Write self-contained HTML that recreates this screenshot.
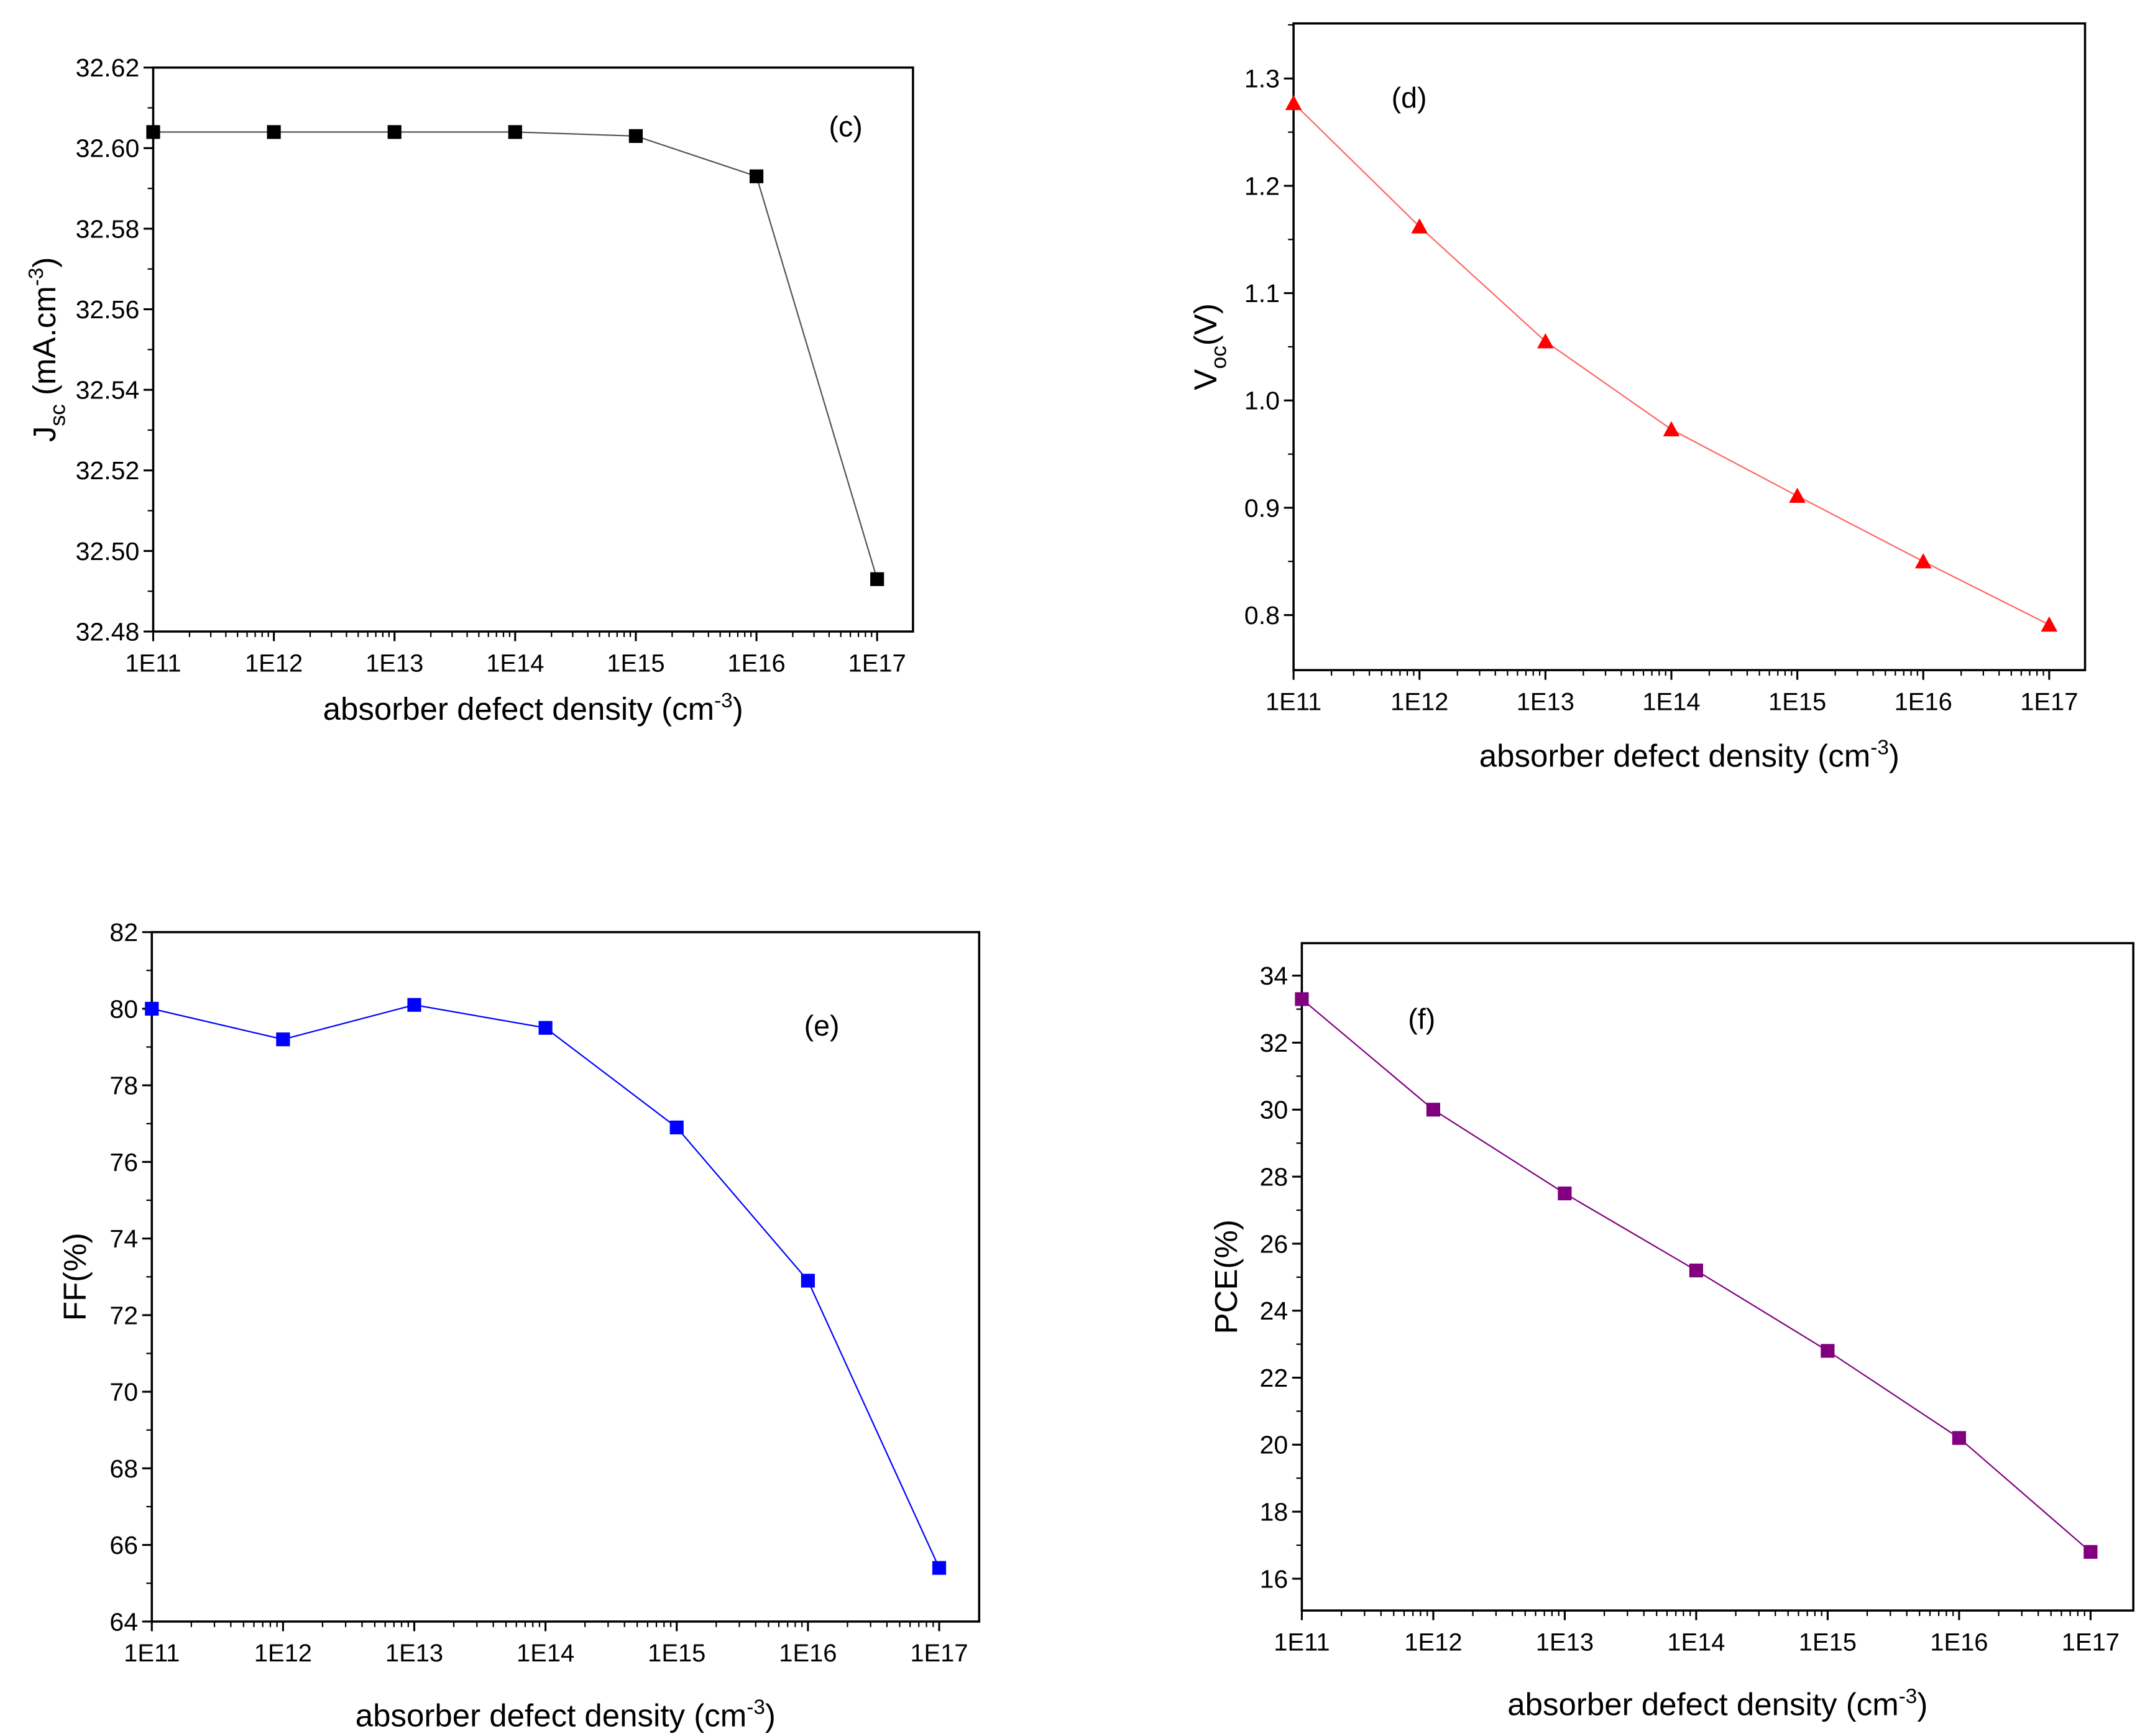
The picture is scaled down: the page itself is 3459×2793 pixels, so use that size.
<!DOCTYPE html>
<html><head><meta charset="utf-8"><style>
html,body{margin:0;padding:0;background:#fff}
svg{display:block;font-family:"Liberation Sans",Arial,sans-serif}
</style></head><body>
<svg id="fig" width="3459" height="2793" viewBox="0 0 1559 1259" xmlns="http://www.w3.org/2000/svg"></svg>
<script>
const decades = ["1E11","1E12","1E13","1E14","1E15","1E16","1E17"];
const jscValues = [32.604,32.604,32.604,32.604,32.603,32.593,32.493];
const vocValues = [1.277,1.162,1.055,0.973,0.911,0.850,0.791];
const ffValues = [80.0,79.2,80.1,79.5,76.9,72.9,65.4];
const pceValues = [33.3,30.0,27.5,25.2,22.8,20.2,16.8];
const jscTicks = [32.48,32.50,32.52,32.54,32.56,32.58,32.60,32.62];
const vocTicks = [0.8,0.9,1.0,1.1,1.2,1.3];
const ffTicks = [64,66,68,70,72,74,76,78,80,82];
const pceTicks = [16,18,20,22,24,26,28,30,32,34];

const NS="http://www.w3.org/2000/svg";
const svg=document.getElementById('fig');
function mk(tag,attrs,parent){const e=document.createElementNS(NS,tag);for(const k in attrs)e.setAttribute(k,attrs[k]);(parent||svg).appendChild(e);return e;}

function panel(o){
  const g=mk('g',{});
  
  
  const X=i=>o.x0+(o.x1-o.x0)*i/6;
  const Y=v=>o.yb-(v-o.ymin)/(o.ymax-o.ymin)*(o.yb-o.yt);
  const fr=mk('rect',{x:o.L,y:o.yt,width:o.R-o.L,height:o.yb-o.yt,fill:'none',stroke:'#000','stroke-width':1.6},g);
  
  
  for(let i=0;i<7;i++){
    mk('line',{x1:X(i),x2:X(i),y1:o.yb,y2:o.yb+7,stroke:'#000','stroke-width':1.4},g);
    const t=mk('text',{x:X(i),y:o.yb+29,'text-anchor':'middle','font-size':18},g);
    t.textContent=decades[i];
    
    
    if(i<6)for(let m=2;m<10;m++){const xm=X(i+Math.log10(m));mk('line',{x1:xm,x2:xm,y1:o.yb,y2:o.yb+4,stroke:'#000','stroke-width':1},g);}
  }
  const step=o.ticks[1]-o.ticks[0];
  o.ticks.forEach(v=>{
    mk('line',{x1:o.L-7,x2:o.L,y1:Y(v),y2:Y(v),stroke:'#000','stroke-width':1.4},g);
    const t=mk('text',{x:o.L-10,y:Y(v)+6.5,'text-anchor':'end','font-size':18.5},g);
    t.textContent=o.fmt(v);
    
    
    const vm=v+step/2;
    if(vm<o.ymax)mk('line',{x1:o.L-4,x2:o.L,y1:Y(vm),y2:Y(vm),stroke:'#000','stroke-width':1},g);
  });
  const pts=o.vals.map((v,i)=>X(i)+','+Y(v)).join(' ');
  const pl=mk('polyline',{points:pts,fill:'none',stroke:o.lc,'stroke-width':1},g);
  
  
  o.vals.forEach((v,i)=>{
    let m;
    if(o.tri){const x=X(i),y=Y(v);m=mk('polygon',{points:`${x},${y-6} ${x-6},${y+5} ${x+6},${y+5}`,fill:o.mc},g);}
    else m=mk('rect',{x:X(i)-5,y:Y(v)-5,width:10,height:10,fill:o.mc},g);
    
    
  });
  const lb=mk('text',{x:o.lx,y:o.ly,'font-size':21},g);
  lb.textContent=o.label;
  
  
  const xt=mk('text',{x:(o.L+o.R)/2,y:o.yb+o.xtOff,'text-anchor':'middle','font-size':23},g);
  xt.innerHTML='absorber defect density (cm<tspan dy="-9" font-size="15">-3</tspan><tspan dy="9">)</tspan>';
  
  
  const yt=mk('text',{transform:`translate(${o.ytx},${(o.yt+o.yb)/2}) rotate(-90)`,'text-anchor':'middle','font-size':23},g);
  yt.innerHTML=o.ytitle;
  
  
}

panel({name:'jsc-panel',L:111,R:662,x0:111,x1:636,yt:49,yb:458,ymin:32.48,ymax:32.62,ticks:jscTicks,fmt:v=>v.toFixed(2),vals:jscValues,lc:'#555',mc:'#000',label:'(c)',lx:601,ly:99,xtOff:64,ytx:40,
 ytitle:'J<tspan dy="7" font-size="16">sc</tspan><tspan dy="-7"> (mA.cm</tspan><tspan dy="-9" font-size="15">-3</tspan><tspan dy="9">)</tspan>'});
panel({name:'voc-panel',L:938,R:1512,x0:938,x1:1486,yt:17,yb:486,ymin:0.7487,ymax:1.3513,ticks:vocTicks,fmt:v=>v.toFixed(1),vals:vocValues,lc:'#f66',mc:'#f00',tri:true,label:'(d)',lx:1009,ly:78,xtOff:70,ytx:882,
 ytitle:'V<tspan dy="7" font-size="16">oc</tspan><tspan dy="-7">(V)</tspan>'});
panel({name:'ff-panel',L:110,R:710,x0:110,x1:681,yt:676,yb:1176,ymin:64,ymax:82,ticks:ffTicks,fmt:v=>String(v),vals:ffValues,lc:'#00f',mc:'#00f',label:'(e)',lx:583,ly:751,xtOff:76,ytx:62,
 ytitle:'FF(%)'});
panel({name:'pce-panel',L:944,R:1547,x0:944,x1:1516,yt:684,yb:1168,ymin:15.05,ymax:34.97,ticks:pceTicks,fmt:v=>String(v),vals:pceValues,lc:'#800080',mc:'#800080',label:'(f)',lx:1021,ly:746,xtOff:76,ytx:897,
 ytitle:'PCE(%)'});
</script>
</body></html>
